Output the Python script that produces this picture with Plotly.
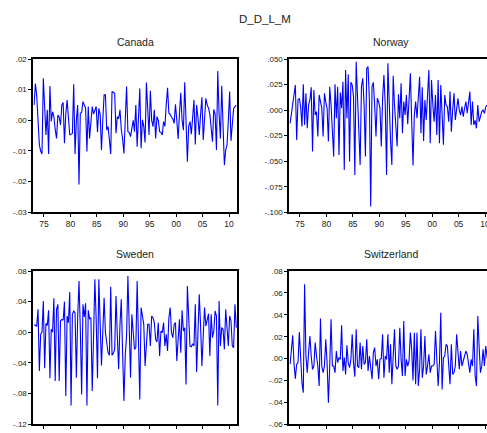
import plotly.graph_objects as go

# Second differences of log money, quarterly, 1973Q1 onwards
canada = [
    0.005, 0.012, 0.008, -0.002, -0.008, -0.010, -0.011, 0.0137, 0.004, -0.0048,
    0.0034, -0.011, 0.0112, -0.0004, 0.0028, 0.0012, -0.003, -0.0059, 0.0017, 0.001,
    -0.0015, 0.005, 0.0058, -0.0075, 0.002, 0.0066, 0.001, -0.0048, -0.0045, -0.0043,
    0.0118, -0.011, 0.0, 0.005, -0.0209, 0.0023, 0.0026, 0.0061, 0.005, 0.004,
    -0.0102, 0.0045, -0.0059, 0.001, 0.0045, 0.002, 0.0034, 0.0045, -0.0039, 0.0039,
    0.002, -0.0097, 0.0, 0.0083, 0.0083, -0.0032, -0.002, -0.0065, -0.011, 0.0094,
    0.0092, 0.0088, -0.0042, 0.0012, 0.0005, 0.0034, -0.003, -0.006, -0.0108, 0.002,
    0.011, -0.0037, -0.004, -0.0053, -0.0021, 0.0,
    -0.0037, 0.005, -0.0086, 0.004,
    0.0104, -0.0091, 0.0002, -0.002, -0.0072, 0.0123, 0.002, -0.0048, 0.0096, 0.0,
    -0.0021, 0.0034, -0.0059, 0.0012, 0.0, -0.0037, -0.0039, -0.0048, -0.0004, -0.002,
    0.005, 0.0106, 0.0023, 0.002, 0.001, 0.0005, -0.001, 0.0052, 0.0, -0.0061,
    0.002, 0.009, 0.0, -0.0032, 0.0124, 0.0, -0.0135, -0.002, -0.0004, -0.0045,
    0.003, 0.0066, -0.0079, 0.005, 0.001, -0.0048, 0.002, 0.0075, -0.0064, 0.001,
    0.0072, 0.005, 0.004, 0.002, -0.004, -0.007, 0.0036, 0.002, -0.0097, 0.0161,
    0.002, -0.0059, 0.0113, -0.006, -0.0146, -0.0097, -0.0081, 0.0, 0.0094, -0.0067,
    0.0, 0.0039, 0.0045, 0.005,
]

norway = [
    -0.013, -0.004, 0.008, 0.018, 0.0246, -0.0292, 0.0099, 0.0116, 0.0034, -0.016,
    0.0252, -0.0145, 0.0164, -0.0178, 0.005, 0.0099, 0.0223, -0.0406, 0.0197, -0.0048,
    -0.0015, -0.0259, 0.0148, 0.0083, 0.002, -0.0259, 0.0164, 0.008, 0.0018, -0.0308,
    0.0229, 0.005, -0.02, -0.0455, 0.0252, -0.008, 0.0229, -0.0439, 0.0171, 0.0018,
    0.0278, -0.0585, 0.0392, -0.008, 0.035, -0.0504, 0.0272, 0.0246, 0.0132, -0.0634,
    0.0474, 0.010, -0.0243, -0.0537, 0.0229, 0.0311, 0.005, -0.0455, 0.0409, 0.0425,
    0.01, -0.0944, 0.0229, 0.0272, 0.005, -0.0259, 0.0116, 0.008, 0.002, -0.0357,
    0.0116, 0.0343, 0.005, -0.0634, 0.0458,
    0.0, -0.03, -0.0537, 0.0337, 0.005,
    -0.0113, -0.0357, 0.0155, -0.008, 0.0262, -0.0227, 0.0083, -0.0048, 0.0148, -0.0139,
    0.01, 0.036, -0.01, -0.0543, -0.0048, 0.0083, -0.008, 0.01, 0.0327, -0.0227,
    0.0223, -0.0302, 0.0099, -0.0096, 0.02, 0.0392, -0.0325, 0.0295, 0.005, -0.0113,
    0.0148, -0.0243, 0.0295, -0.0325, 0.0246, 0.0, -0.034, 0.0148, 0.005, 0.0034,
    -0.0113, 0.0181, -0.0211, 0.0, 0.0164, -0.0096, 0.0034, 0.0115, 0.0, -0.0048,
    0.0034, -0.0064, 0.0018, 0.0083, -0.0031, 0.008, 0.0181, -0.0145, 0.0083, -0.0145,
    -0.01, -0.0178, 0.005, -0.0113, -0.005, -0.0015, 0.0, -0.0031, 0.003, 0.005,
    0.002, -0.003, 0.004, 0.001,
]

sweden = [
    0.010, 0.0091, 0.0082, 0.030, -0.0504, -0.0026, 0.0004, 0.0409, -0.047, 0.0117,
    0.0091, 0.0287, -0.06, 0.0039, 0.0004, 0.0443, -0.0635, 0.03, 0.0365, -0.0635,
    0.0148, 0.0169, 0.0157, 0.040, -0.0831, 0.0213, 0.0126, 0.0526, -0.0953, 0.0235,
    0.0278, 0.0256, -0.0592, 0.02, 0.067, 0.0039, -0.081, 0.0365, 0.02, 0.0378,
    -0.0953, 0.0287, 0.0178, 0.0191, -0.0766, -0.007, 0.0691, 0.0169, -0.06, 0.0691,
    0.0169, -0.0431, 0.0, 0.0452, -0.0005, -0.015, -0.0266, -0.03, 0.0596, -0.03,
    -0.0274, -0.0222, 0.0474, -0.0048, -0.0483, 0.01, 0.043, -0.0266, -0.0897, -0.03,
    -0.0048, 0.0735, 0.0082, -0.0592, 0.0235, 0.0, -0.0222, -0.02, 0.067, -0.01,
    -0.0875, 0.0322, 0.0191, 0.0104, -0.044, -0.01, 0.0104, 0.0104, -0.0179, 0.0213,
    0.0191, 0.0126, -0.0092, -0.0127, 0.0126, -0.0309, 0.0017, -0.0005, 0.0126, -0.0179,
    -0.0027, -0.0244, 0.0191, 0.0322, -0.0005, -0.007, 0.0104, 0.0126, -0.0375, -0.01,
    0.0169, -0.0266, 0.0287, 0.0017, 0.0061, -0.0679, 0.0604, 0.02, -0.0179, -0.0187,
    -0.015, -0.0179, 0.0365, -0.0518, 0.0104, 0.0496, 0.0082, -0.044, -0.005, 0.0322,
    0.0082, 0.015, 0.0243, -0.0309, 0.0235, -0.007, 0.0017, 0.0278, 0.0213, -0.0953,
    0.0409, -0.0179, 0.0061, 0.0039, -0.0222, 0.03, 0.0039, -0.0179, 0.0213, 0.0148,
    -0.0179, -0.02, 0.0365, 0.0061,
]

switzerland = [
    -0.0052, 0.008, 0.0212, -0.005, -0.0183, -0.0052, -0.0037, 0.0243, -0.0037, -0.022,
    -0.0311, 0.0678, 0.0024, -0.0128, 0.005, 0.0206, 0.0024, -0.0098, -0.0068, 0.0146,
    0.0024, -0.0068, -0.025, 0.0365, -0.0068, -0.0128, -0.0068, 0.0176, -0.0037, -0.0402,
    -0.0068, 0.0359, -0.0068, -0.0068, -0.0128, 0.0069, -0.0037, 0.0009, -0.0007, 0.0304,
    -0.0113, 0.0009, -0.0144, 0.0121, -0.0037, -0.0083, -0.0007, 0.0222, -0.0037, -0.0165,
    0.0267, -0.0068, -0.0083, 0.0146, -0.0098, 0.0115, -0.0052, -0.0037, 0.0176, -0.0113,
    0.0024, -0.0068, -0.0189, 0.0054, 0.01, -0.0068, -0.0007, -0.0189, -0.0007, 0.0,
    0.0222, -0.0174, 0.0024, -0.0007, 0.0222, -0.0128, 0.0131, -0.0235, 0.01, 0.0267,
    -0.0068, -0.0098, -0.0068, 0.0282, -0.0007, -0.0159, 0.0343, -0.0159, -0.0007, -0.0068,
    -0.0022, 0.0237, 0.0085, -0.02, 0.0237, -0.0235, 0.0237, -0.025, -0.0098, 0.0267,
    -0.0174, -0.0068, 0.0206, -0.0144, -0.0068, 0.0039, -0.0128, -0.0068, -0.0068, -0.0052,
    0.0252, 0.0054, -0.025, -0.0037, 0.0419, -0.0281, 0.0009, 0.0024, 0.0131, 0.0115,
    -0.0037, -0.0235, 0.0131, -0.0144, -0.0128, -0.0068, 0.0222, 0.0039, -0.0098, 0.0069,
    -0.0068, -0.0022, 0.0039, 0.0069, 0.0039, -0.0068, -0.0128, -0.0007, -0.0068, 0.0267,
    -0.0159, -0.025, 0.0389, 0.0115, -0.0128, -0.0068, 0.0085, -0.0068, 0.0115, 0.002,
    -0.005, 0.008, 0.003, 0.0,
]

# Year axis
year_ticks = [1975, 1980, 1985, 1990, 1995, 2000, 2005, 2010]
year_labels = ["75", "80", "85", "90", "95", "00", "05", "10"]

# Value axes
canada_ticks = [0.02, 0.01, 0.0, -0.01, -0.02, -0.03]
canada_labels = [".02", ".01", ".00", "-.01", "-.02", "-.03"]
norway_ticks = [0.05, 0.025, 0.0, -0.025, -0.05, -0.075, -0.1]
norway_labels = [".050", ".025", ".000", "-.025", "-.050", "-.075", "-.100"]
sweden_ticks = [0.08, 0.04, 0.0, -0.04, -0.08, -0.12]
sweden_labels = [".08", ".04", ".00", "-.04", "-.08", "-.12"]
swiss_ticks = [0.08, 0.06, 0.04, 0.02, 0.0, -0.02, -0.04, -0.06]
swiss_labels = [".08", ".06", ".04", ".02", ".00", "-.02", "-.04", "-.06"]

START_YEAR = 1973
quarters = [START_YEAR + q / 4 + 0.125 for q in range(len(canada))]

W, H = 487, 433
FONT = "Liberation Sans, Arial, sans-serif"

def px_x(x):
    return x / W

def px_y(y):
    return 1 - y / H

LEFT_DOM = [px_x(33.3), px_x(237.3)]
RIGHT_DOM = [px_x(289.3), 1.0]
TOP_DOM = [px_y(212.3), px_y(59)]
BOT_DOM = [px_y(424.3), px_y(271)]

FULL_RANGE = [1972.98, 2011.57]
CLIPPED_RANGE = [1972.98, 1972.98 + (W - 289.3) / 5.288]

panels = [
    ("Canada", canada, LEFT_DOM, TOP_DOM, FULL_RANGE, [-0.03, 0.02], canada_ticks, canada_labels, True),
    ("Norway", norway, RIGHT_DOM, TOP_DOM, CLIPPED_RANGE, [-0.1, 0.05], norway_ticks, norway_labels, False),
    ("Sweden", sweden, LEFT_DOM, BOT_DOM, FULL_RANGE, [-0.12, 0.08], sweden_ticks, sweden_labels, True),
    ("Switzerland", switzerland, RIGHT_DOM, BOT_DOM, CLIPPED_RANGE, [-0.06, 0.08], swiss_ticks, swiss_labels, False),
]

fig = go.Figure()
layout = {}
annotations = []
for k, (name, values, xdom, ydom, xr, yr, yt, yl, closed) in enumerate(panels, start=1):
    sfx = "" if k == 1 else str(k)
    fig.add_trace(go.Scatter(
        x=quarters, y=values, mode="lines",
        line=dict(color="#0000ff", width=1.1),
        xaxis="x" + sfx, yaxis="y" + sfx, showlegend=False, hoverinfo="skip",
    ))
    layout["xaxis" + sfx] = dict(
        domain=xdom, range=xr, anchor="y" + sfx, automargin=False,
        tickmode="array", tickvals=year_ticks, ticktext=year_labels,
        ticks="outside", ticklen=3, tickwidth=1, tickcolor="#000",
        ticklabeloverflow="allow",
        showline=True, linecolor="#000", linewidth=1.8, mirror=True,
        showgrid=False, zeroline=False,
        tickfont=dict(family=FONT, size=8.5, color="#222"),
    )
    layout["yaxis" + sfx] = dict(
        domain=ydom, range=yr, anchor="x" + sfx, automargin=False,
        tickmode="array", tickvals=yt, ticktext=yl,
        ticks="outside", ticklen=3, tickwidth=1, tickcolor="#000",
        showline=True, linecolor="#000", linewidth=1.8, mirror=closed,
        showgrid=False, zeroline=False,
        tickfont=dict(family=FONT, size=8, color="#222"),
    )
    cx = xdom[0] * W + 102
    ty = 41.5 if ydom is TOP_DOM else 253.5
    annotations.append(dict(
        text=name, x=px_x(cx), y=px_y(ty), xref="paper", yref="paper",
        xanchor="center", yanchor="middle", showarrow=False,
        font=dict(family=FONT, size=10.5, color="#222"),
    ))

annotations.append(dict(
    text="D_D_L_M", x=px_x(265), y=px_y(19), xref="paper", yref="paper",
    xanchor="center", yanchor="middle", showarrow=False,
    font=dict(family=FONT, size=11.5, color="#222"),
))

fig.update_layout(
    width=W, height=H,
    margin=dict(l=0, r=0, t=0, b=0, autoexpand=False),
    paper_bgcolor="white", plot_bgcolor="white",
    annotations=annotations,
    **layout,
)

fig.write_html("out.html", config={"displayModeBar": False})
